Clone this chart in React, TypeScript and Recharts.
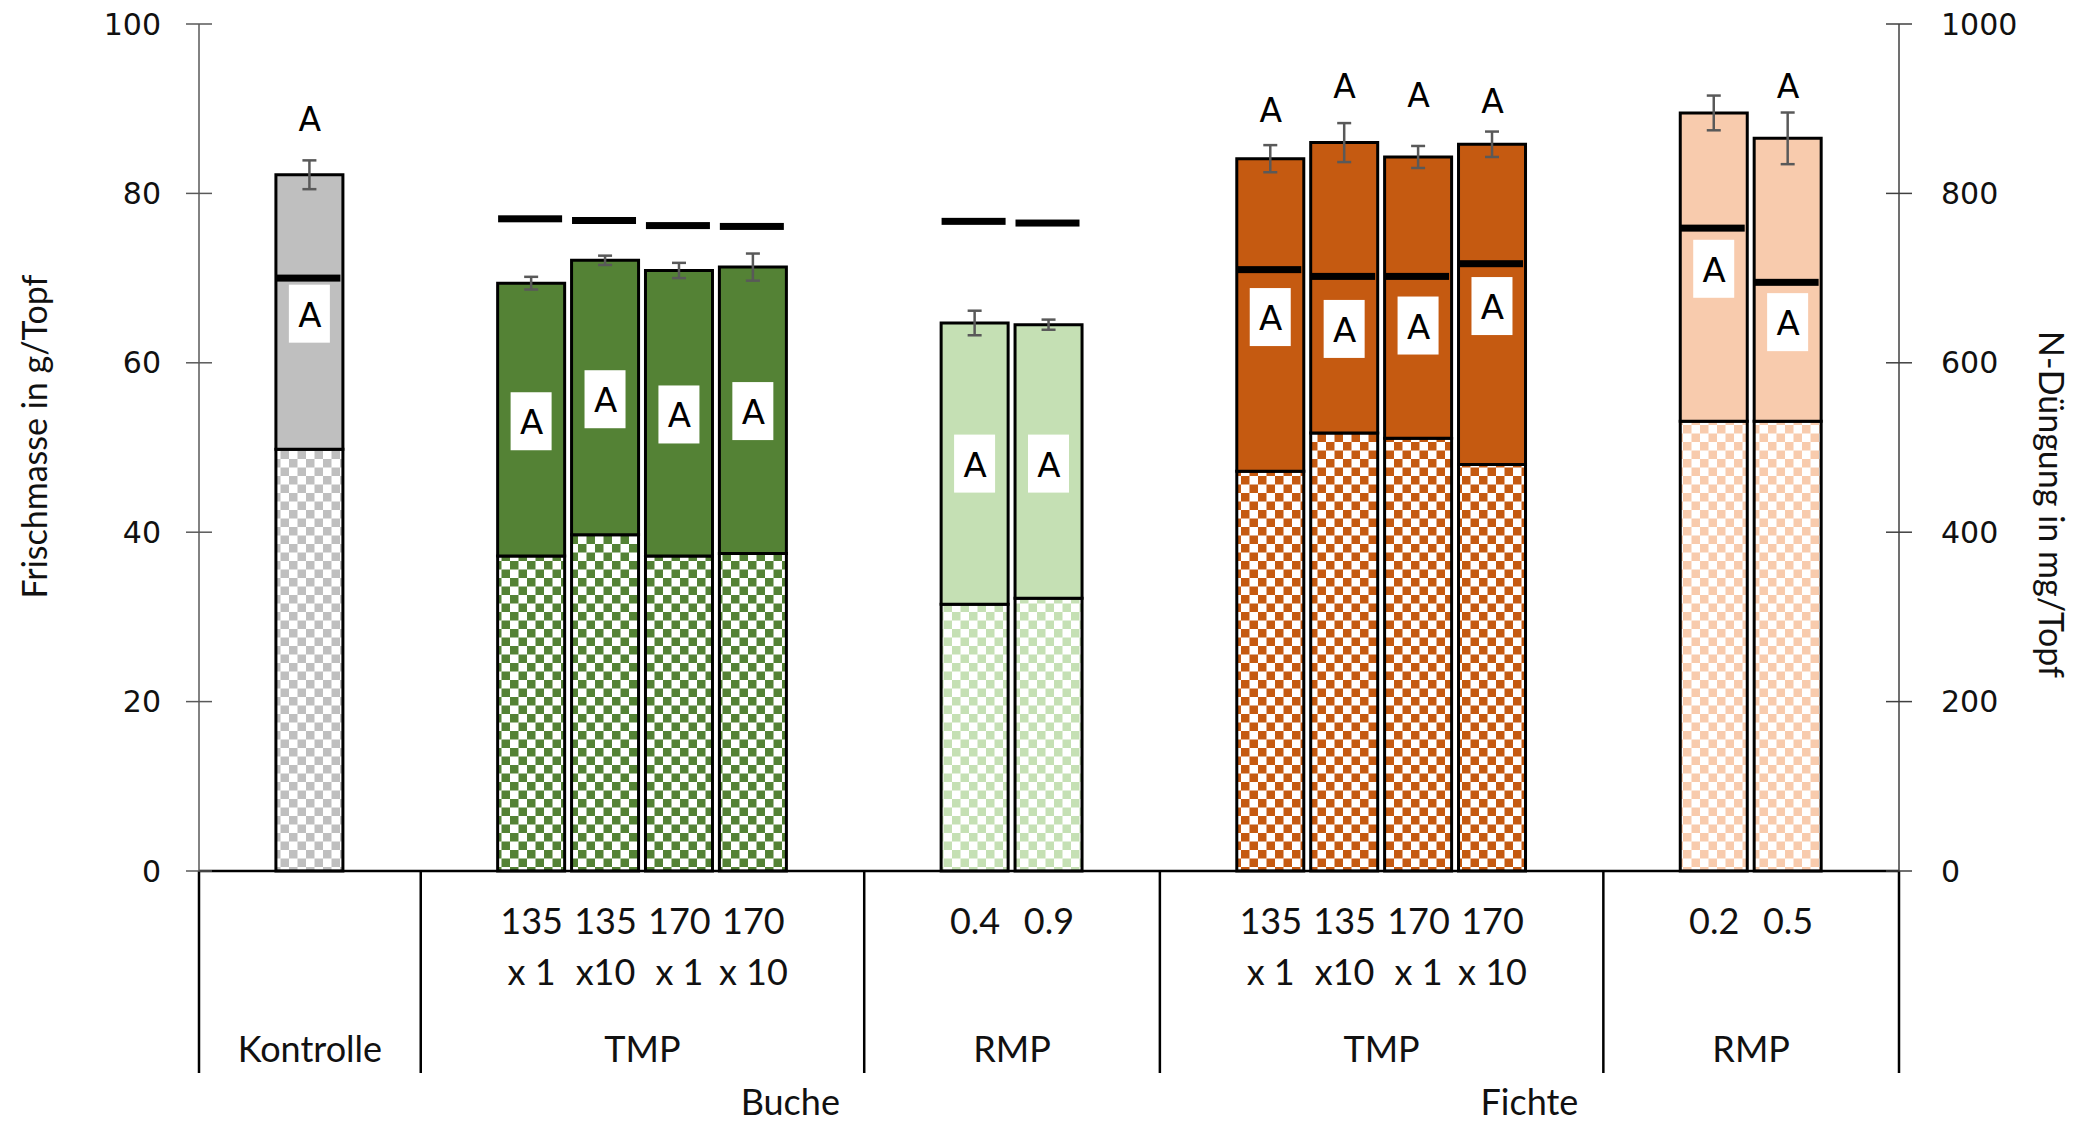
import React from 'react';
import { ComposedChart, Bar, Line, XAxis, YAxis, Cell, ErrorBar } from 'recharts';

// 23 category slots (Excel layout keeps empty slots between the groups)
const slotKeys = [
  'g0', 'Kontrolle', 'g2', 'g3',
  'B-TMP-135x1', 'B-TMP-135x10', 'B-TMP-170x1', 'B-TMP-170x10', 'g8', 'g9',
  'B-RMP-0.4', 'B-RMP-0.9', 'g12', 'g13',
  'F-TMP-135x1', 'F-TMP-135x10', 'F-TMP-170x1', 'F-TMP-170x10', 'g18', 'g19',
  'F-RMP-0.2', 'F-RMP-0.5', 'g22',
];
const labelTop = ['', '', '', '', '135', '135', '170', '170', '', '', '0.4', '0.9', '', '', '135', '135', '170', '170', '', '', '0.2', '0.5', ''];
const labelBottom = ['', '', '', '', 'x 1', 'x10', 'x 1', 'x 10', '', '', '', '', '', '', 'x 1', 'x10', 'x 1', 'x 10', '', '', '', '', ''];
const variant = [
  '', 'kontrolle', '', '',
  'bucheTMP', 'bucheTMP', 'bucheTMP', 'bucheTMP', '', '',
  'bucheRMP', 'bucheRMP', '', '',
  'fichteTMP', 'fichteTMP', 'fichteTMP', 'fichteTMP', '', '',
  'fichteRMP', 'fichteRMP', '',
];

const checkerMass = [null, 49.8, null, null, 37.2, 39.7, 37.2, 37.5, null, null, 31.5, 32.2, null, null, 47.2, 51.7, 51.1, 48.0, null, null, 53.1, 53.1, null];
const totalMass = [null, 82.2, null, null, 69.4, 72.1, 70.9, 71.3, null, null, 64.7, 64.5, null, null, 84.1, 86.0, 84.3, 85.8, null, null, 89.5, 86.5, null];
const massError = [null, 1.7, null, null, 0.75, 0.55, 0.9, 1.6, null, null, 1.45, 0.6, null, null, 1.6, 2.3, 1.3, 1.5, null, null, 2.05, 3.05, null];
const nFertilization = [null, 700, null, null, 770, 768, 762, 761, null, null, 767, 765, null, null, 710, 702, 702, 717, null, null, 759, 695, null];

// significance letters: one inside each bar (white box) and some above the bars
const innerLetter = ['', 'A', '', '', 'A', 'A', 'A', 'A', '', '', 'A', 'A', '', '', 'A', 'A', 'A', 'A', '', '', 'A', 'A', ''];
const innerLetterLevel = [null, 65.8, null, null, 53.1, 55.7, 53.9, 54.3, null, null, 48.1, 48.1, null, null, 65.4, 64.0, 64.4, 66.7, null, null, 71.1, 64.8, null];
const topLetter = ['', 'A', '', '', '', '', '', '', '', '', '', '', '', '', 'A', 'A', 'A', 'A', '', '', '', 'A', ''];
const topLetterLevel = [null, 88.7, null, null, null, null, null, null, null, null, null, null, null, null, 89.8, 92.6, 91.6, 90.9, null, null, null, 92.6, null];

const groups = [
  { label: 'Kontrolle', from: 0, to: 2 },
  { label: 'TMP', from: 3, to: 8 },
  { label: 'RMP', from: 9, to: 12 },
  { label: 'TMP', from: 13, to: 18 },
  { label: 'RMP', from: 19, to: 22 },
];
const species = [
  { label: 'Buche', from: 3, to: 12 },
  { label: 'Fichte', from: 13, to: 22 },
];

const leftTicks = [0, 20, 40, 60, 80, 100];
const rightTicks = [0, 200, 400, 600, 800, 1000];

const colors: Record<string, string> = {
  kontrolle: '#BFBFBF',
  bucheTMP: '#548235',
  bucheRMP: '#C5E0B4',
  fichteTMP: '#C55A11',
  fichteRMP: '#F8CBAD',
};

const data = slotKeys.map((key, i) => ({
  key,
  checker: checkerMass[i] ?? 0,
  upper: totalMass[i] != null && checkerMass[i] != null ? +((totalMass[i] as number) - (checkerMass[i] as number)).toFixed(2) : 0,
  err: massError[i],
  n: nFertilization[i],
  inner: innerLetter[i],
  innerAt: innerLetterLevel[i],
  top: topLetter[i],
  topAt: topLetterLevel[i],
}));

const labelFont = 'Lato, "Open Sans", sans-serif';
const numFont = '"DejaVu Sans", sans-serif';

const LeftTick = (props: any) => {
  const { x, y, payload } = props;
  return (
    <g>
      <line x1={x + 25} x2={x + 51} y1={y} y2={y} stroke="#595959" strokeWidth={1.5} />
      <text x={x} y={y} textAnchor="end" dominantBaseline="central" fontFamily={numFont} fontSize={30} fill="#111">
        {payload.value}
      </text>
    </g>
  );
};

const RightTick = (props: any) => {
  const { x, y, payload } = props;
  return (
    <g>
      <line x1={x - 55} x2={x - 29} y1={y} y2={y} stroke="#404040" strokeWidth={1.5} />
      <text x={x} y={y} textAnchor="start" dominantBaseline="central" fontFamily={numFont} fontSize={30} fill="#111">
        {payload.value}
      </text>
    </g>
  );
};

const CategoryTick = (props: any) => {
  const { x, y, index } = props;
  const count = props.visibleTicksCount || slotKeys.length;
  const band = (props.width || 1700) / count;
  const half = band / 2;
  const parts: React.ReactNode[] = [];
  const txt = { fontFamily: labelFont, fontSize: 36, fill: '#111', textAnchor: 'middle' as const, dominantBaseline: 'central' as const };
  if (labelTop[index]) parts.push(<text key="r1" x={x} y={y + 49} {...txt}>{labelTop[index]}</text>);
  if (labelBottom[index]) parts.push(<text key="r2" x={x} y={y + 100} {...txt}>{labelBottom[index]}</text>);
  const g = groups.find((gr) => gr.from === index);
  if (g) {
    parts.push(<line key="d" x1={x - half} x2={x - half} y1={y} y2={y + 202} stroke="#000" strokeWidth={2.5} />);
    parts.push(<text key="gl" x={x - half + (g.to - g.from + 1) * half} y={y + 177} {...txt}>{g.label}</text>);
  }
  if (index === count - 1) {
    parts.push(<line key="de" x1={x + half} x2={x + half} y1={y} y2={y + 202} stroke="#000" strokeWidth={2.5} />);
  }
  const s = species.find((sp) => sp.from === index);
  if (s) {
    parts.push(<text key="sp" x={x - half + (s.to - s.from + 1) * half} y={y + 230} {...txt}>{s.label}</text>);
  }
  return <g>{parts}</g>;
};

const InnerLetter = (props: any) => {
  const { cx, cy, payload } = props;
  if (!payload || !payload.inner || cy == null || cx == null) return <g />;
  return (
    <g>
      <rect x={cx - 21} y={cy - 29} width={41} height={58} fill="#fff" />
      <text x={cx} y={cy + 1} textAnchor="middle" dominantBaseline="central" fontFamily={numFont} fontSize={34} fill="#000">
        {payload.inner}
      </text>
    </g>
  );
};

const NDash = (props: any) => {
  const { cx, cy, value } = props;
  if (value == null || cy == null || cx == null) return <g />;
  return <rect x={cx - 33.5} y={cy - 3.5} width={64} height={7} fill="#000" />;
};

const TopLetter = (props: any) => {
  const { cx, cy, payload } = props;
  if (!payload || !payload.top || cy == null) return <g />;
  return (
    <text x={cx} y={cy} textAnchor="middle" dominantBaseline="central" fontFamily={numFont} fontSize={33} fill="#000">
      {payload.top}
    </text>
  );
};

const leftTitle = (props: any) => {
  const vb = props.viewBox || { x: 19, y: 24, width: 180, height: 847 };
  const cx = vb.x + 14;
  const cy = vb.y + vb.height / 2 - 11;
  return (
    <text x={cx} y={cy} transform={`rotate(-90 ${cx} ${cy})`} textAnchor="middle" dominantBaseline="central" fontFamily={labelFont} fontSize={34} fill="#111">
      Frischmasse in g/Topf
    </text>
  );
};

const rightTitle = (props: any) => {
  const vb = props.viewBox || { x: 1899, y: 24, width: 183, height: 847 };
  const cx = vb.x + 153;
  const cy = vb.y + vb.height / 2 + 57;
  return (
    <text x={cx} y={cy} transform={`rotate(90 ${cx} ${cy})`} textAnchor="middle" dominantBaseline="central" fontFamily={labelFont} fontSize={34} fill="#111">
      N-Düngung in mg/Topf
    </text>
  );
};

export default function App() {
  return (
    <div style={{ position: 'absolute', left: 0, top: 0, background: '#fff' }}>
      <ComposedChart width={2082} height={1124} data={data} margin={{ top: 24, right: 0, bottom: 33, left: 19 }}>
        <defs>
          {Object.keys(colors).map((k) => (
            <pattern key={k} id={`chk-${k}`} width={17} height={17} patternUnits="userSpaceOnUse">
              <rect width={17} height={17} fill="#fff" />
              <rect width={8.5} height={8.5} fill={colors[k]} />
              <rect x={8.5} y={8.5} width={8.5} height={8.5} fill={colors[k]} />
            </pattern>
          ))}
        </defs>
        <XAxis
          dataKey="key"
          interval={0}
          height={220}
          tickSize={0}
          tickMargin={0}
          tickLine={false}
          axisLine={{ stroke: '#000', strokeWidth: 2.5 }}
          tick={<CategoryTick />}
        />
        <YAxis
          yAxisId="left"
          domain={[0, 100]}
          ticks={leftTicks}
          width={180}
          tickSize={13}
          tickMargin={25}
          tickLine={false}
          axisLine={{ stroke: '#595959', strokeWidth: 1.5 }}
          tick={<LeftTick />}
          label={leftTitle}
        />
        <YAxis
          yAxisId="right"
          orientation="right"
          domain={[0, 1000]}
          ticks={rightTicks}
          width={183}
          tickSize={13}
          tickMargin={29}
          tickLine={false}
          axisLine={{ stroke: '#404040', strokeWidth: 1.5 }}
          tick={<RightTick />}
          label={rightTitle}
        />
        <Bar yAxisId="left" dataKey="checker" stackId="m" barSize={67} stroke="#000" strokeWidth={3} isAnimationActive={false}>
          {data.map((d, i) => (
            <Cell key={d.key} fill={variant[i] ? `url(#chk-${variant[i]})` : '#fff'} />
          ))}
        </Bar>
        <Bar yAxisId="left" dataKey="upper" stackId="m" barSize={67} stroke="#000" strokeWidth={3} isAnimationActive={false}>
          {data.map((d, i) => (
            <Cell key={d.key} fill={variant[i] ? colors[variant[i]] : '#fff'} />
          ))}
          <ErrorBar dataKey="err" direction="y" width={7} stroke="#595959" strokeWidth={2.5} />
        </Bar>
        <Line
          yAxisId="left"
          dataKey="innerAt"
          stroke="none"
          dot={<InnerLetter />}
          activeDot={false}
          legendType="none"
          isAnimationActive={false}
        />
        <Line
          yAxisId="right"
          dataKey="n"
          stroke="none"
          dot={<NDash />}
          activeDot={false}
          legendType="none"
          isAnimationActive={false}
        />
        <Line
          yAxisId="left"
          dataKey="topAt"
          stroke="none"
          dot={<TopLetter />}
          activeDot={false}
          legendType="none"
          isAnimationActive={false}
        />
      </ComposedChart>
    </div>
  );
}
